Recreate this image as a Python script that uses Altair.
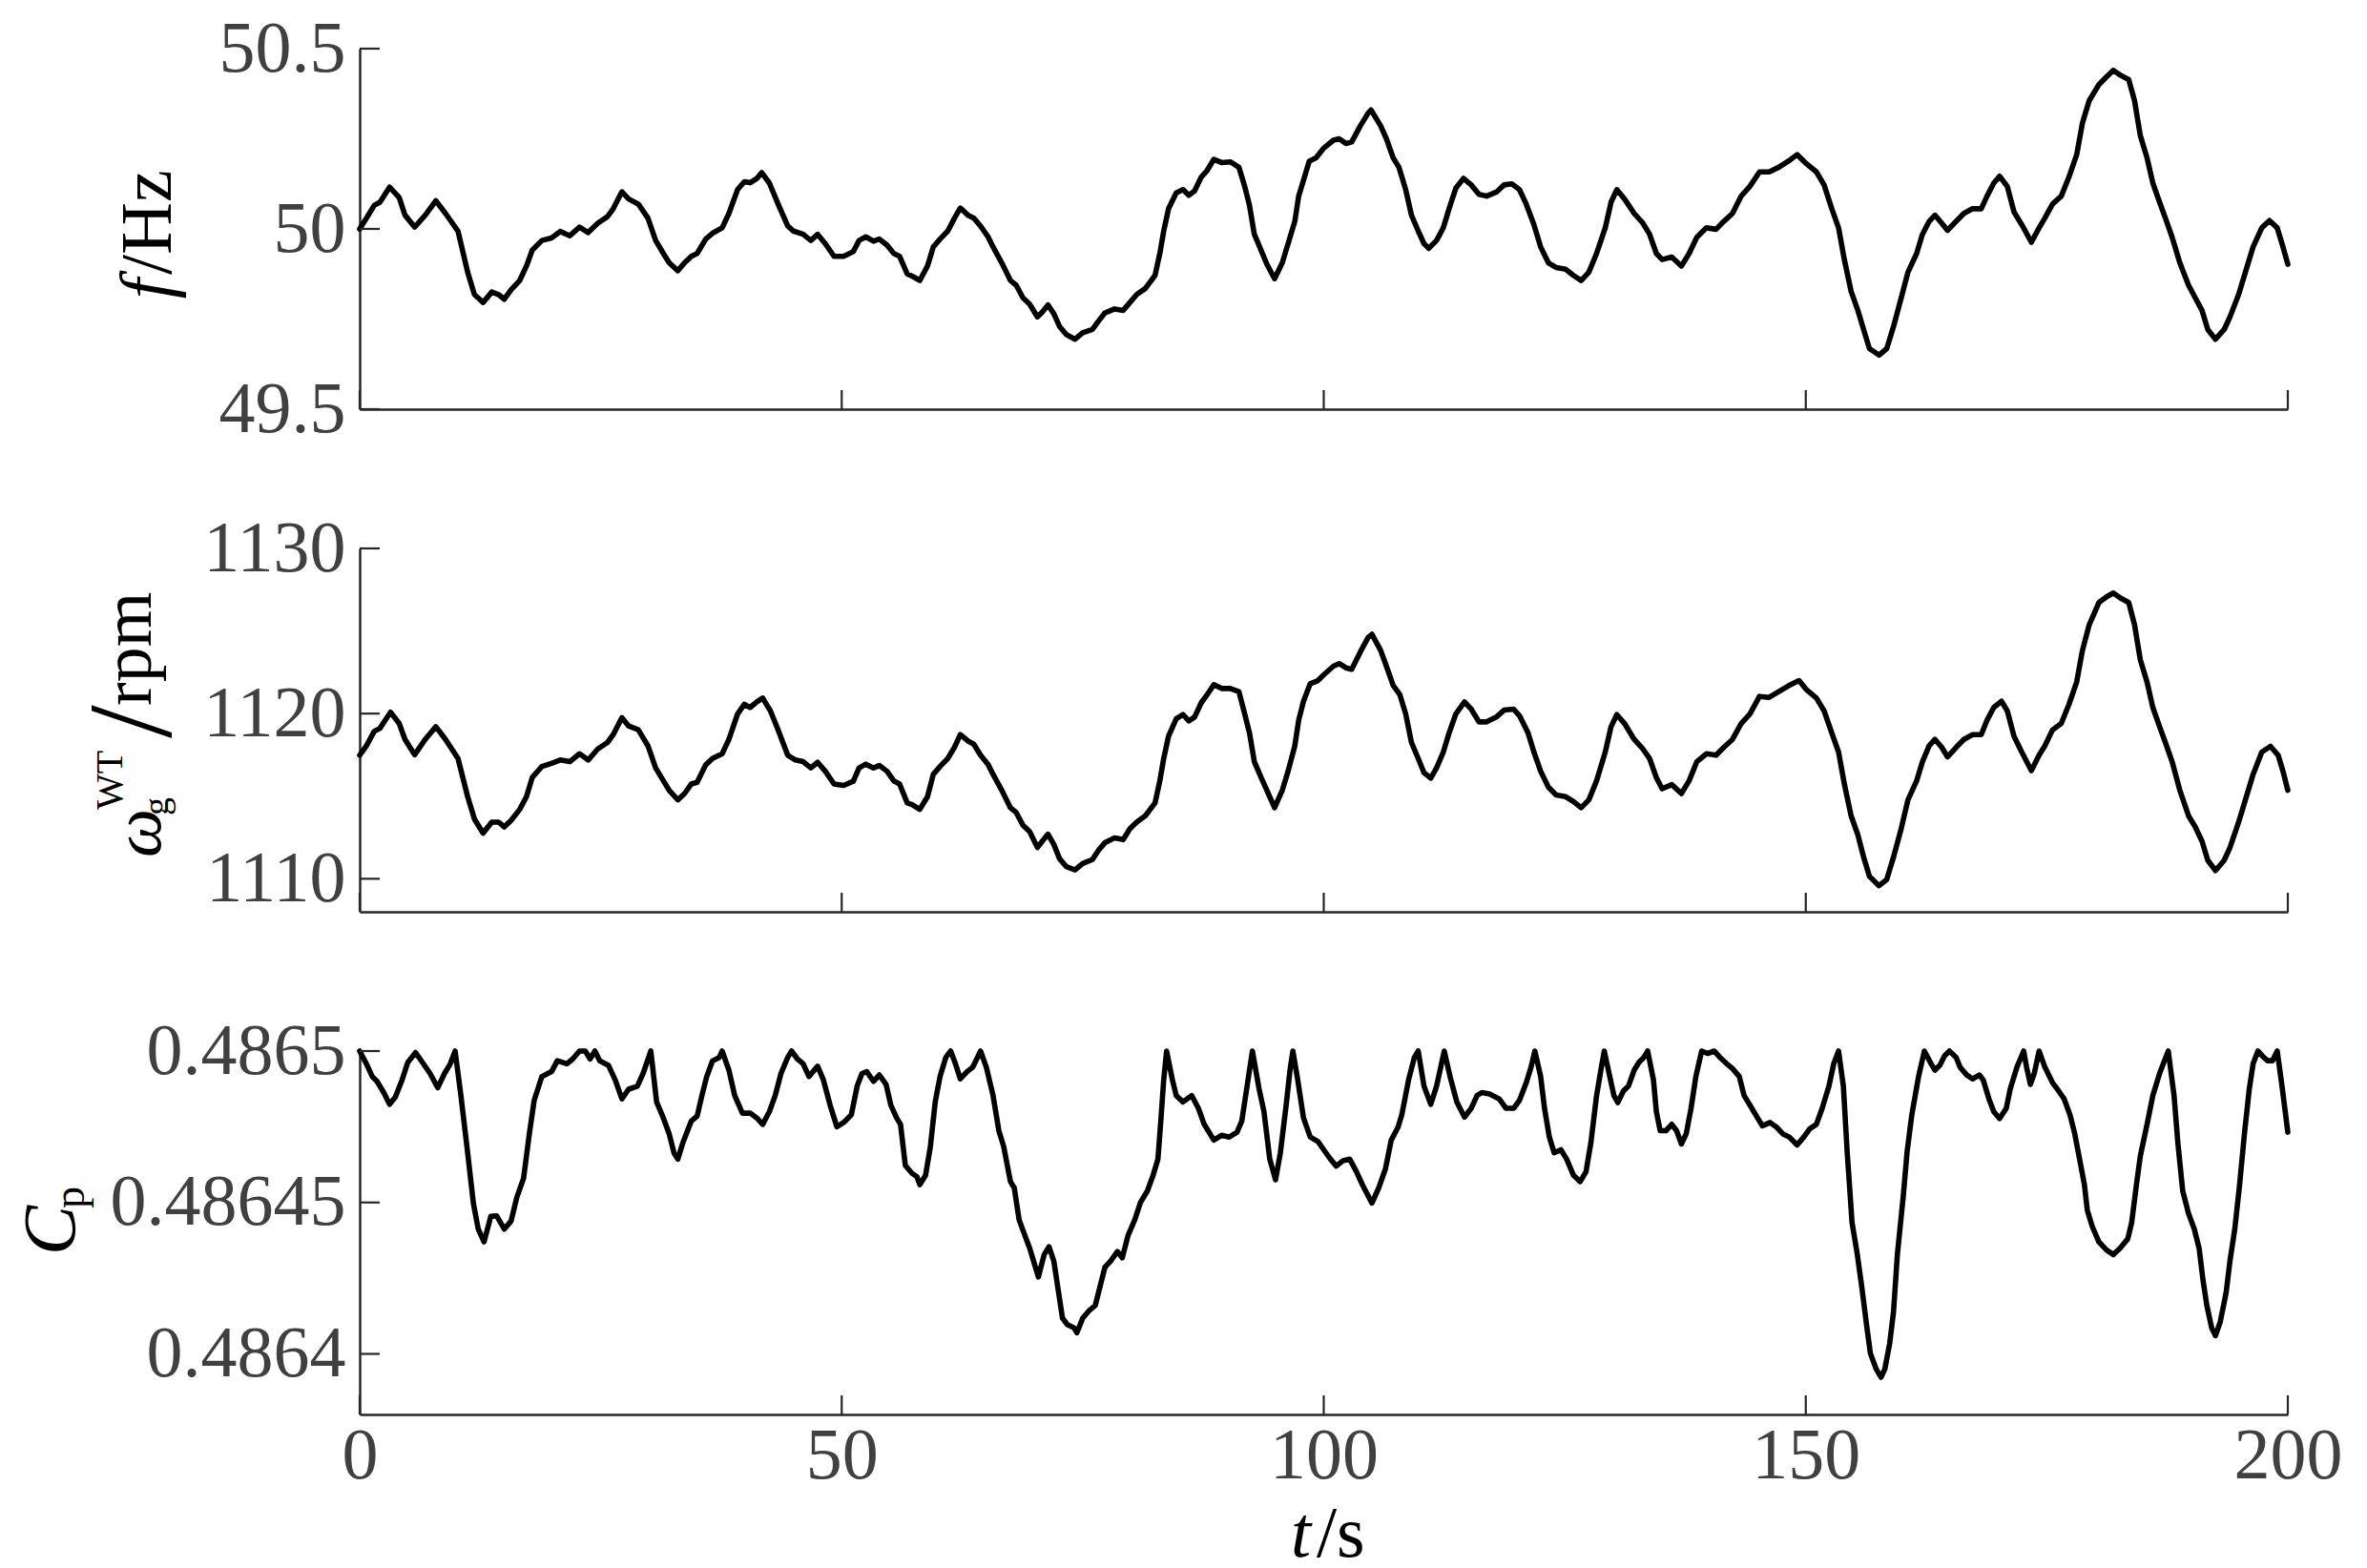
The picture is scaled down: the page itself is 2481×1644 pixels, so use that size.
import altair as alt
import pandas as pd

# ---------------- data ----------------
T1 = [0.0, 0.7, 1.5, 2.1, 3.1, 4.1, 4.7, 5.7, 6.8, 7.9,
      8.9, 10.2, 11.2, 11.9, 12.8, 13.7, 14.4, 15.0, 15.7, 16.6,
      17.3, 17.9, 18.9, 19.9, 20.8, 21.8, 22.8, 23.7, 24.7, 25.7,
      26.3, 27.2, 27.9, 28.9, 29.9, 30.7, 31.5, 32.1, 33.0, 33.7,
      34.4, 35.0, 35.9, 36.6, 37.6, 38.3, 39.2, 39.9, 40.5, 41.2,
      41.7, 42.5, 43.4, 44.4, 45.0, 46.0, 46.8, 47.5, 48.3, 49.2,
      50.2, 51.2, 51.8, 52.5, 53.3, 53.9, 54.7, 55.4, 56.0, 56.8,
      57.3, 58.1, 58.9, 59.5, 60.2, 61.0, 61.7, 62.3, 63.1, 63.7,
      64.4, 65.2, 65.7, 66.6, 67.5, 68.1, 68.8, 69.5, 70.3, 70.8,
      71.4, 72.0, 72.6, 73.3, 74.2, 75.0, 76.0, 76.6, 77.3, 78.3,
      79.2, 79.9, 80.6, 81.5, 82.5, 83.0, 83.4, 83.9, 84.7, 85.4,
      86.0, 86.6, 87.3, 87.9, 88.6, 89.4, 90.3, 91.2, 91.8, 92.3,
      92.8, 93.5, 94.1, 94.9, 95.7, 96.3, 97.0, 97.4, 97.9, 98.5,
      99.2, 100.0, 101.0, 101.6, 102.3, 102.9, 103.8, 104.6, 104.9, 105.9,
      106.5, 107.2, 107.8, 108.5, 109.1, 109.8, 110.4, 110.9, 111.7, 112.4,
      113.0, 113.7, 114.5, 115.3, 116.1, 116.9, 117.9, 118.7, 119.5, 120.3,
      121.0, 121.8, 122.5, 123.3, 124.1, 125.1, 125.9, 126.7, 127.5, 128.3,
      129.2, 129.8, 130.4, 131.2, 132.2, 133.1, 133.8, 134.5, 135.1, 136.1,
      137.1, 137.9, 138.7, 139.7, 140.7, 141.5, 142.4, 143.3, 144.2, 145.2,
      146.2, 147.2, 148.2, 149.1, 150.1, 151.1, 151.9, 152.7, 153.4, 154.0,
      154.7, 155.4, 156.0, 156.6, 157.6, 158.4, 159.1, 159.9, 160.6, 161.5,
      162.1, 162.8, 163.4, 164.1, 164.7, 165.6, 166.4, 167.3, 168.2, 168.8,
      169.5, 170.1, 170.9, 171.6, 172.4, 173.4, 174.2, 174.8, 175.6, 176.5,
      177.3, 178.1, 178.7, 179.4, 180.4, 181.2, 181.9, 182.6, 183.5, 184.1,
      184.7, 185.4, 186.0, 186.7, 187.3, 188.0, 188.8, 189.7, 190.4, 191.1,
      191.7, 192.5, 193.4, 194.0, 194.9, 195.6, 196.4, 197.3, 198.1, 198.9,
      199.5, 200.0]
F1 = [50.000, 50.030, 50.065, 50.074, 50.116, 50.087, 50.038, 50.005, 50.038, 50.078,
      50.043, 49.994, 49.880, 49.818, 49.796, 49.825, 49.818, 49.805, 49.831, 49.857,
      49.897, 49.941, 49.968, 49.975, 49.993, 49.981, 50.005, 49.990, 50.016, 50.034,
      50.056, 50.103, 50.083, 50.069, 50.030, 49.968, 49.932, 49.906, 49.884, 49.906,
      49.924, 49.932, 49.972, 49.988, 50.003, 50.043, 50.109, 50.131, 50.128, 50.140,
      50.156, 50.127, 50.069, 50.008, 49.994, 49.985, 49.968, 49.985, 49.959, 49.924,
      49.924, 49.937, 49.968, 49.978, 49.966, 49.972, 49.955, 49.932, 49.924, 49.875,
      49.869, 49.857, 49.897, 49.950, 49.972, 49.994, 50.030, 50.058, 50.038, 50.030,
      50.008, 49.977, 49.950, 49.906, 49.857, 49.844, 49.809, 49.791, 49.756, 49.769,
      49.789, 49.765, 49.729, 49.707, 49.694, 49.712, 49.721, 49.743, 49.767, 49.778,
      49.774, 49.796, 49.818, 49.835, 49.871, 49.932, 49.994, 50.056, 50.100, 50.109,
      50.093, 50.105, 50.144, 50.162, 50.193, 50.184, 50.186, 50.171, 50.118, 50.065,
      49.985, 49.941, 49.902, 49.862, 49.906, 49.959, 50.021, 50.091, 50.135, 50.188,
      50.197, 50.224, 50.246, 50.250, 50.237, 50.241, 50.286, 50.321, 50.330, 50.286,
      50.250, 50.197, 50.171, 50.109, 50.038, 49.994, 49.959, 49.946, 49.968, 50.003,
      50.056, 50.113, 50.140, 50.122, 50.096, 50.091, 50.102, 50.122, 50.125, 50.109,
      50.069, 50.012, 49.950, 49.906, 49.893, 49.888, 49.871, 49.857, 49.880, 49.932,
      50.003, 50.074, 50.109, 50.083, 50.043, 50.016, 49.985, 49.932, 49.915, 49.922,
      49.897, 49.932, 49.977, 50.003, 49.999, 50.021, 50.043, 50.091, 50.118, 50.158,
      50.158, 50.171, 50.188, 50.206, 50.180, 50.158, 50.122, 50.056, 50.003, 49.915,
      49.827, 49.774, 49.721, 49.668, 49.650, 49.668, 49.729, 49.809, 49.880, 49.932,
      49.985, 50.021, 50.038, 50.016, 49.996, 50.021, 50.043, 50.056, 50.056, 50.091,
      50.127, 50.146, 50.118, 50.047, 50.012, 49.963, 50.003, 50.030, 50.069, 50.091,
      50.144, 50.206, 50.294, 50.356, 50.400, 50.422, 50.440, 50.427, 50.414, 50.356,
      50.259, 50.197, 50.127, 50.074, 50.030, 49.977, 49.906, 49.844, 49.809, 49.774,
      49.721, 49.694, 49.721, 49.756, 49.818, 49.880, 49.950, 50.003, 50.023, 50.003,
      49.950, 49.902]

T2 = [0.0, 0.7, 1.5, 2.1, 3.2, 4.1, 4.7, 5.7, 6.8, 7.9,
      8.9, 10.2, 11.2, 11.9, 12.8, 13.7, 14.4, 15.0, 15.7, 16.6,
      17.3, 17.9, 18.9, 19.9, 20.8, 21.8, 22.8, 23.7, 24.7, 25.7,
      26.3, 27.2, 27.9, 28.9, 29.9, 30.7, 31.5, 32.1, 33.0, 33.7,
      34.4, 35.0, 35.9, 36.6, 37.6, 38.3, 39.2, 39.9, 40.5, 41.2,
      41.8, 42.6, 43.4, 44.4, 45.2, 46.0, 46.8, 47.5, 48.3, 49.2,
      50.2, 51.2, 51.8, 52.5, 53.3, 53.9, 54.7, 55.4, 56.0, 56.8,
      57.3, 58.1, 58.9, 59.5, 60.2, 61.0, 61.7, 62.3, 63.1, 63.7,
      64.4, 65.2, 65.7, 66.6, 67.5, 68.1, 68.8, 69.5, 70.3, 70.8,
      71.4, 72.0, 72.6, 73.3, 74.2, 75.0, 76.0, 76.6, 77.3, 78.3,
      79.2, 79.9, 80.6, 81.5, 82.5, 83.0, 83.4, 83.9, 84.7, 85.4,
      86.0, 86.6, 87.3, 87.9, 88.6, 89.4, 90.3, 91.2, 91.8, 92.3,
      92.8, 93.5, 94.1, 94.9, 95.7, 96.3, 97.0, 97.4, 97.9, 98.6,
      99.4, 100.0, 101.0, 101.6, 102.3, 102.9, 103.8, 104.6, 105.0, 105.9,
      106.5, 107.2, 107.9, 108.5, 109.1, 109.8, 110.4, 111.1, 111.7, 112.4,
      113.0, 113.7, 114.6, 115.3, 116.1, 116.9, 117.9, 118.7, 119.7, 120.3,
      121.2, 121.8, 122.5, 123.3, 124.1, 125.1, 125.9, 126.7, 127.5, 128.3,
      129.2, 129.8, 130.4, 131.2, 132.2, 133.1, 133.8, 134.5, 135.1, 136.1,
      137.1, 137.9, 138.7, 139.7, 140.7, 141.5, 142.4, 143.3, 144.2, 145.2,
      146.2, 147.2, 148.2, 149.3, 150.1, 151.1, 151.9, 152.7, 153.4, 154.0,
      154.7, 155.4, 156.0, 156.6, 157.6, 158.4, 159.1, 159.9, 160.6, 161.5,
      162.1, 162.8, 163.4, 164.1, 164.7, 165.6, 166.4, 167.3, 168.2, 168.8,
      169.5, 170.3, 170.9, 171.6, 172.4, 173.4, 174.2, 174.8, 175.6, 176.5,
      177.3, 178.1, 178.7, 179.4, 180.4, 181.2, 181.9, 182.6, 183.5, 184.1,
      184.7, 185.4, 186.0, 186.7, 187.3, 188.0, 188.8, 189.7, 190.4, 191.1,
      191.7, 192.5, 193.4, 194.0, 194.9, 195.6, 196.4, 197.3, 198.2, 199.0,
      199.5, 200.0]
W2 = [1117.48, 1118.05, 1118.92, 1119.11, 1120.08, 1119.40, 1118.44, 1117.51, 1118.44, 1119.21,
      1118.44, 1117.28, 1114.97, 1113.62, 1112.76, 1113.43, 1113.43, 1113.14, 1113.53, 1114.20,
      1114.97, 1116.13, 1116.80, 1116.99, 1117.19, 1117.09, 1117.57, 1117.19, 1117.86, 1118.25,
      1118.73, 1119.75, 1119.25, 1119.02, 1118.05, 1116.71, 1115.93, 1115.36, 1114.78, 1115.16,
      1115.74, 1115.84, 1116.90, 1117.28, 1117.57, 1118.44, 1119.98, 1120.56, 1120.37, 1120.71,
      1120.94, 1120.17, 1119.02, 1117.48, 1117.19, 1117.09, 1116.71, 1117.05, 1116.51, 1115.74,
      1115.65, 1115.90, 1116.71, 1116.94, 1116.71, 1116.86, 1116.51, 1115.93, 1115.74, 1114.59,
      1114.49, 1114.20, 1114.97, 1116.32, 1116.80, 1117.28, 1117.96, 1118.73, 1118.34, 1118.15,
      1117.48, 1116.90, 1116.32, 1115.36, 1114.30, 1114.01, 1113.24, 1112.85, 1111.89, 1112.27,
      1112.70, 1112.08, 1111.21, 1110.73, 1110.54, 1110.92, 1111.16, 1111.70, 1112.18, 1112.47,
      1112.37, 1113.04, 1113.43, 1113.82, 1114.59, 1115.93, 1117.28, 1118.63, 1119.69, 1119.94,
      1119.56, 1119.79, 1120.66, 1121.14, 1121.75, 1121.52, 1121.52, 1121.33, 1119.98, 1118.82,
      1117.09, 1116.13, 1115.36, 1114.30, 1115.36, 1116.51, 1118.05, 1119.60, 1120.75, 1121.81,
      1122.00, 1122.35, 1122.87, 1123.03, 1122.77, 1122.68, 1123.74, 1124.61, 1124.80, 1123.83,
      1122.87, 1121.71, 1121.14, 1119.98, 1118.25, 1117.28, 1116.42, 1116.09, 1116.71, 1117.67,
      1118.82, 1119.98, 1120.71, 1120.27, 1119.50, 1119.50, 1119.79, 1120.21, 1120.27, 1119.88,
      1118.82, 1117.67, 1116.51, 1115.55, 1115.07, 1114.97, 1114.68, 1114.30, 1114.78, 1115.93,
      1117.67, 1119.21, 1119.94, 1119.40, 1118.44, 1117.86, 1117.28, 1116.13, 1115.45, 1115.70,
      1115.16, 1115.93, 1117.09, 1117.57, 1117.48, 1117.96, 1118.44, 1119.40, 1119.98, 1121.04,
      1120.98, 1121.33, 1121.68, 1122.00, 1121.43, 1120.94, 1120.17, 1118.82, 1117.67, 1115.74,
      1113.82, 1112.66, 1111.31, 1110.15, 1109.58, 1109.96, 1111.31, 1113.04, 1114.78, 1115.93,
      1117.09, 1118.05, 1118.44, 1117.96, 1117.38, 1117.96, 1118.44, 1118.73, 1118.73, 1119.60,
      1120.37, 1120.75, 1120.17, 1118.63, 1117.67, 1116.55, 1117.48, 1118.05, 1119.02, 1119.40,
      1120.56, 1121.91, 1123.83, 1125.38, 1126.72, 1127.07, 1127.30, 1127.01, 1126.72, 1125.38,
      1123.26, 1121.91, 1120.37, 1119.21, 1118.25, 1117.09, 1115.36, 1113.82, 1113.14, 1112.27,
      1111.12, 1110.50, 1111.12, 1111.89, 1113.43, 1114.78, 1116.32, 1117.67, 1118.02, 1117.48,
      1116.51, 1115.36]

T3 = [0.0, 0.7, 1.3, 1.8, 2.5, 3.1, 3.7, 4.4, 5.0, 5.8,
      6.5, 7.3, 8.1, 8.8, 9.4, 9.9, 10.5, 11.2, 11.8, 12.3,
      12.9, 13.6, 14.2, 15.0, 15.7, 16.3, 17.0, 17.6, 18.1, 18.9,
      19.9, 20.5, 21.5, 22.1, 22.8, 23.4, 23.9, 24.4, 24.9, 25.8,
      26.5, 27.2, 27.9, 28.8, 29.4, 30.2, 30.8, 31.5, 32.1, 32.6,
      33.0, 33.5, 34.4, 35.0, 35.5, 36.0, 36.6, 37.3, 37.6, 38.3,
      38.9, 39.7, 40.5, 41.2, 41.8, 42.5, 43.1, 43.7, 44.4, 44.8,
      45.4, 46.0, 46.6, 47.5, 48.1, 48.8, 49.5, 50.2, 51.0, 51.6,
      52.1, 52.6, 53.3, 53.9, 54.6, 55.1, 55.7, 56.1, 56.6, 57.3,
      57.8, 58.1, 58.7, 59.2, 59.7, 60.2, 60.8, 61.3, 61.8, 62.3,
      63.0, 63.6, 64.4, 65.0, 65.7, 66.3, 66.8, 67.5, 67.9, 68.4,
      69.0, 69.5, 70.4, 71.0, 71.5, 72.0, 72.5, 72.9, 73.4, 74.1,
      74.4, 75.0, 75.7, 76.3, 76.8, 77.3, 77.9, 78.6, 79.1, 79.7,
      80.4, 81.0, 81.7, 82.3, 82.8, 83.1, 83.4, 83.7, 84.3, 84.7,
      85.4, 86.3, 87.0, 87.6, 88.6, 89.4, 90.2, 91.0, 91.5, 92.1,
      92.6, 93.3, 93.8, 94.4, 95.0, 95.5, 96.1, 96.5, 96.8, 97.3,
      97.9, 98.6, 99.4, 100.0, 100.7, 101.3, 102.0, 102.7, 103.4, 104.0,
      105.0, 105.7, 106.4, 107.0, 107.7, 108.1, 108.8, 109.4, 109.8, 110.4,
      111.1, 111.7, 112.5, 113.1, 113.8, 114.6, 115.3, 115.9, 116.4, 117.2,
      118.2, 118.9, 119.7, 120.3, 121.0, 121.5, 121.9, 122.5, 122.9, 123.4,
      123.9, 124.6, 125.2, 125.9, 126.6, 127.2, 127.7, 128.3, 128.8, 129.1,
      129.6, 130.1, 130.5, 131.1, 131.6, 132.2, 132.7, 133.2, 133.6, 134.2,
      134.5, 134.9, 135.5, 136.1, 136.6, 137.1, 137.6, 138.1, 138.6, 139.2,
      139.8, 140.5, 141.1, 141.8, 142.4, 143.1, 143.6, 144.4, 145.0, 145.5,
      146.3, 147.0, 147.6, 148.3, 149.1, 149.8, 150.4, 151.1, 151.7, 152.4,
      152.9, 153.4, 153.9, 154.3, 154.8, 155.3, 155.8, 156.3, 156.7, 157.3,
      157.8, 158.2, 158.7, 159.1, 159.5, 160.1, 160.5, 161.0, 161.7, 162.3,
      163.0, 163.4, 163.9, 164.4, 164.9, 165.6, 166.0, 166.7, 167.3, 168.0,
      168.4, 169.0, 169.5, 170.1, 170.8, 171.2, 171.9, 172.6, 172.9, 173.3,
      173.7, 174.2, 174.8, 175.6, 176.1, 176.8, 177.4, 177.9, 178.4, 178.9,
      179.2, 179.7, 180.4, 181.2, 181.9, 182.6, 183.4, 183.8, 184.3, 184.7,
      185.4, 186.0, 186.7, 187.2, 187.6, 188.2, 188.6, 189.1, 189.7, 190.3,
      190.8, 191.2, 191.6, 192.1, 192.5, 193.0, 193.6, 194.0, 194.5, 195.0,
      195.5, 196.0, 196.4, 196.9, 197.5, 197.9, 198.4, 198.9, 199.4, 200.0]
CP3 = [0.4865, 0.4864958, 0.4864916, 0.48649, 0.4864863, 0.4864824, 0.4864848, 0.4864905, 0.4864963, 0.4864995,
       0.4864963, 0.4864926, 0.4864879, 0.4864926, 0.4864958, 0.4865, 0.4864853, 0.4864664, 0.4864496, 0.4864412,
       0.486437, 0.4864454, 0.4864456, 0.4864412, 0.4864438, 0.4864517, 0.486458, 0.4864727, 0.4864837, 0.4864916,
       0.4864932, 0.4864968, 0.4864958, 0.4864974, 0.4865, 0.4865, 0.4864974, 0.4865, 0.4864968, 0.4864953,
       0.4864905, 0.4864842, 0.4864874, 0.4864884, 0.4864926, 0.4865, 0.4864832, 0.4864779, 0.4864727, 0.4864664,
       0.4864643, 0.4864695, 0.4864769, 0.4864785, 0.4864853, 0.4864916, 0.4864968, 0.4864979, 0.4865, 0.4864937,
       0.4864853, 0.4864795, 0.4864795, 0.4864779, 0.4864758, 0.48648, 0.4864853, 0.4864926, 0.4864979, 0.4865,
       0.4864974, 0.4864958, 0.4864916, 0.486495, 0.4864905, 0.4864821, 0.486475, 0.4864764, 0.486479, 0.4864884,
       0.4864926, 0.4864932, 0.48649, 0.4864921, 0.486489, 0.4864821, 0.4864779, 0.4864758, 0.4864622, 0.4864596,
       0.4864585, 0.4864559, 0.486459, 0.4864685, 0.4864832, 0.4864916, 0.4864979, 0.4865, 0.4864958, 0.4864908,
       0.4864932, 0.4864947, 0.4865, 0.4864947, 0.4864853, 0.4864737, 0.4864685, 0.4864569, 0.4864548, 0.4864443,
       0.4864391, 0.4864349, 0.4864254, 0.4864328, 0.4864354, 0.4864307, 0.4864202, 0.4864118, 0.4864097, 0.4864086,
       0.486407, 0.4864118, 0.4864144, 0.486416, 0.4864223, 0.4864286, 0.4864307, 0.4864338, 0.4864317, 0.4864391,
       0.4864443, 0.4864501, 0.4864538, 0.486459, 0.4864643, 0.4864769, 0.4864905, 0.4865, 0.4864905, 0.4864853,
       0.4864832, 0.4864853, 0.4864811, 0.4864758, 0.4864706, 0.4864722, 0.4864716, 0.4864732, 0.4864769, 0.4864895,
       0.4865, 0.4864874, 0.48648, 0.4864643, 0.4864575, 0.4864664, 0.4864821, 0.4864937, 0.4865, 0.4864905,
       0.4864779, 0.4864716, 0.4864701, 0.4864674, 0.4864643, 0.486462, 0.4864638, 0.4864643, 0.4864601, 0.4864559,
       0.4864498, 0.4864548, 0.4864611, 0.4864706, 0.4864748, 0.486479, 0.4864905, 0.4864979, 0.4865, 0.4864884,
       0.4864824, 0.4864884, 0.4865, 0.4864916, 0.4864832, 0.4864782, 0.4864811, 0.4864853, 0.4864863, 0.4864858,
       0.4864842, 0.4864811, 0.4864811, 0.4864837, 0.4864895, 0.4864947, 0.4865, 0.4864916, 0.4864811, 0.4864716,
       0.4864664, 0.4864674, 0.4864643, 0.486459, 0.4864569, 0.4864601, 0.4864695, 0.4864853, 0.4864947, 0.4865,
       0.4864926, 0.4864853, 0.486483, 0.4864869, 0.4864884, 0.4864937, 0.4864963, 0.4864979, 0.4865, 0.4864905,
       0.48648, 0.4864737, 0.4864737, 0.4864758, 0.4864737, 0.4864693, 0.4864727, 0.4864811, 0.4864916, 0.4865,
       0.4864992, 0.4865, 0.4864979, 0.4864958, 0.4864942, 0.4864916, 0.4864853, 0.4864811, 0.4864779, 0.4864753,
       0.4864764, 0.4864748, 0.4864727, 0.4864716, 0.486469, 0.4864716, 0.4864743, 0.4864758, 0.4864811, 0.4864884,
       0.4864958, 0.4865, 0.4864884, 0.4864664, 0.4864433, 0.4864338, 0.4864223, 0.4864097, 0.4864002, 0.486395,
       0.4863923, 0.486395, 0.4864034, 0.4864139, 0.4864328, 0.4864517, 0.4864664, 0.486479, 0.4864916, 0.4865,
       0.4864958, 0.4864937, 0.4864953, 0.4864984, 0.4865, 0.4864979, 0.4864947, 0.4864921, 0.4864908, 0.4864921,
       0.4864905, 0.4864842, 0.48648, 0.4864777, 0.4864811, 0.4864874, 0.4864947, 0.4865, 0.4864947, 0.486489,
       0.4864926, 0.4865, 0.4864947, 0.4864895, 0.4864874, 0.4864842, 0.486479, 0.4864727, 0.4864643, 0.4864559,
       0.4864475, 0.4864422, 0.486437, 0.4864343, 0.4864328, 0.4864349, 0.486438, 0.4864433, 0.4864559, 0.4864653,
       0.4864758, 0.4864853, 0.4864926, 0.4864968, 0.4865, 0.4864853, 0.4864695, 0.4864538, 0.4864464, 0.4864412,
       0.4864349, 0.4864244, 0.486416, 0.4864086, 0.486406, 0.4864107, 0.4864202, 0.4864307, 0.4864412, 0.4864559,
       0.4864727, 0.4864874, 0.4864958, 0.4865, 0.4864979, 0.4864968, 0.4864968, 0.4865, 0.4864884, 0.4864732]

X_TICKS = [0, 50, 100, 150, 200]
F_TICKS = [49.5, 50, 50.5]
W_TICKS = [1110, 1120, 1130]
CP_TICKS = [0.4864, 0.48645, 0.4865]
F_DOMAIN = [49.5, 50.5]
W_DOMAIN = [1108, 1130]
CP_DOMAIN = [0.48638, 0.4865]

# ---------------- styling ----------------
FONT = "Liberation Serif"
AXC = "#262626"
LABC = "#404040"
LFS = 76
PW = 2021
H1, H2, H3 = 378, 381, 381

X_SCALE = alt.Scale(domain=[0, 200], nice=False, zero=False)
ONE = pd.DataFrame({"k": [0]})


def xaxis(labels):
    return alt.Axis(values=X_TICKS, labels=labels, ticks=False, grid=False, title=None,
                    domainColor=AXC, domainWidth=2.5, labelFont=FONT, labelFontSize=LFS,
                    labelColor=LABC, labelPadding=6, labelFlush=False, labelOverlap=False,
                    labelLimit=0)


def yaxis(vals, fmt):
    return alt.Axis(values=vals, format=fmt, ticks=False, grid=False, title=None,
                    domainColor=AXC, domainWidth=2.5, labelFont=FONT, labelFontSize=LFS,
                    labelColor=LABC, labelPadding=15, labelOverlap=False, labelLimit=0)


def txt(s, x, y, size=78, style="normal", align="left", angle=270):
    return alt.Chart(ONE).mark_text(
        text=s, font=FONT, fontSize=size, fontStyle=style, align=align,
        baseline="alphabetic", angle=angle, color="black"
    ).encode(x=alt.value(x), y=alt.value(y))


def panel(t, v, name, dom, yticks, fmt, h, labels, extras):
    df = pd.DataFrame({"t": t, name: v})
    ysc = alt.Scale(domain=dom, nice=False, zero=False)
    line = alt.Chart(df).mark_line(color="black", strokeWidth=5.6, strokeJoin="round",
                                   strokeCap="round").encode(
        x=alt.X("t:Q", scale=X_SCALE, axis=xaxis(labels)),
        y=alt.Y(f"{name}:Q", scale=ysc, axis=yaxis(yticks, fmt)),
    )
    ytk = alt.Chart(pd.DataFrame({name: yticks})).mark_rule(color=AXC, strokeWidth=2.2).encode(
        y=alt.Y(f"{name}:Q", scale=ysc, axis=yaxis(yticks, fmt)),
        x=alt.value(0), x2=alt.value(21))
    xtk = alt.Chart(pd.DataFrame({"t": X_TICKS})).mark_rule(color=AXC, strokeWidth=2.2).encode(
        x=alt.X("t:Q", scale=X_SCALE, axis=xaxis(labels)),
        y=alt.value(h), y2=alt.value(h - 20))
    return alt.layer(line, ytk, xtk, *extras).properties(width=PW, height=h)


p1 = panel(T1, F1, "f", F_DOMAIN, F_TICKS, ".1~f", H1, False, [
    txt("f", -198, 241, 76, "italic", "right"),
    txt("/Hz", -198, 237, 76, "normal", "left"),
])

p2 = panel(T2, W2, "w", W_DOMAIN, W_TICKS, "d", H2, False, [
    txt("ω", -209, 324, 72, "italic", "left"),
    txt("g", -201, 280, 38, "normal", "left"),
    txt("WT", -249, 274, 40, "normal", "left"),
    txt("/", -198, 199, 125, "normal", "left"),
    txt("rpm", -219, 165, 74, "normal", "left"),
])

p3 = panel(T3, CP3, "cp", CP_DOMAIN, CP_TICKS, ".5~f", H3, True, [
    txt("C", -299, 214, 78, "italic", "left"),
    txt("p", -289, 165, 46, "normal", "left"),
    txt("t", 997, 530, 76, "italic", "right", 0),
    txt("/s", 1003, 530, 76, "normal", "left", 0),
])

chart = alt.vconcat(p1, p2, p3, spacing=146, bounds="flush").configure_view(
    strokeWidth=0
).properties(padding={"left": 8, "top": 5, "right": 5, "bottom": 5})

chart.save("out.html", embed_options={"renderer": "svg", "actions": False})
